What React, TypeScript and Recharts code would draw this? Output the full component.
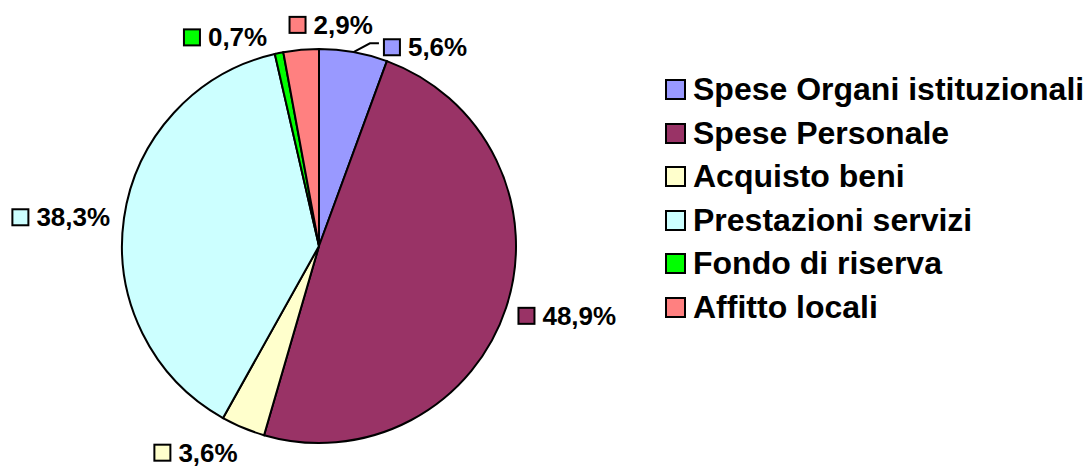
import React from 'react';
import { PieChart, Pie, Cell, Legend } from 'recharts';

const categories = [
  'Spese Organi istituzionali',
  'Spese Personale',
  'Acquisto beni',
  'Prestazioni servizi',
  'Fondo di riserva',
  'Affitto locali'
];
const shares = [5.6, 48.9, 3.6, 38.3, 0.7, 2.9];
const colors = ['#9999FF', '#993366', '#FFFFCC', '#CCFFFF', '#00FF00', '#FF8080'];

// small nudges so labels sit where the original best-fit placed them
const labelNudge = [[27, 9], [-2, 4], [0, 12], [0, 1], [-9, -2], [73, -11]];

const data = categories.map((name, i) => ({ name, value: shares[i] }));

const FONT = '"Liberation Sans", Arial, Helvetica, sans-serif';
const LABEL_SIZE = 26;
const RAD = Math.PI / 180;

let ctx: CanvasRenderingContext2D | null = null;
const textWidth = (s: string) => {
  if (!ctx) ctx = document.createElement('canvas').getContext('2d');
  if (!ctx) return s.length * 15;
  ctx.font = `bold ${LABEL_SIZE}px ${FONT}`;
  return ctx.measureText(s).width;
};

const fmt = (v: number) => v.toFixed(1).replace('.', ',') + '%';

const renderLabel = (props: any) => {
  const { cx, cy, midAngle, outerRadius, index, value } = props;
  const cos = Math.cos(-midAngle * RAD);
  const sin = Math.sin(-midAngle * RAD);
  const px = cx + (outerRadius + 14) * cos;
  const py = cy + (outerRadius + 14) * sin;
  const text = fmt(value);
  const w = 25 + textWidth(text);
  const [dx, dy] = labelNudge[index];
  const left = (cos >= 0 ? px : px - w) + dx;
  const mid = py + dy;
  const ex = cx + outerRadius * cos;
  const ey = cy + outerRadius * sin;
  return (
    <g key={`lbl-${index}`}>
      {index === 0 && (
        <polyline
          points={`${ex},${ey} ${left - 13},${mid - 4} ${left - 4},${mid - 4}`}
          fill="none"
          stroke="#000"
          strokeWidth={2}
        />
      )}
      <rect x={left + 1} y={mid - 8} width={16} height={16} fill={colors[index]} stroke="#000" strokeWidth={2} />
      <text
        x={left + 25}
        y={mid}
        dominantBaseline="central"
        fontFamily={FONT}
        fontWeight="bold"
        fontSize={LABEL_SIZE}
        fill="#000"
      >
        {text}
      </text>
    </g>
  );
};

const renderLegend = () => (
  <div style={{ fontFamily: FONT, fontWeight: 'bold', fontSize: 32, color: '#000' }}>
    {categories.map((name, i) => (
      <div key={name} style={{ display: 'flex', alignItems: 'center', height: 43.5, whiteSpace: 'nowrap' }}>
        <span
          style={{
            display: 'inline-block',
            width: 17,
            height: 17,
            border: '2px solid #000',
            background: colors[i],
            marginRight: 7
          }}
        />
        <span>{name}</span>
      </div>
    ))}
  </div>
);

export default function App() {
  return (
    <div style={{ position: 'absolute', left: 0, top: 0, background: '#fff' }}>
      <PieChart width={1086} height={468} margin={{ top: 0, right: 0, bottom: 0, left: 0 }}>
        <Pie
          data={data}
          dataKey="value"
          nameKey="name"
          cx={319}
          cy={246}
          outerRadius={197}
          startAngle={90}
          endAngle={-270}
          stroke="#000"
          strokeWidth={2}
          label={renderLabel}
          labelLine={false}
          isAnimationActive={false}
        >
          {data.map((d, i) => (
            <Cell key={d.name} fill={colors[i]} />
          ))}
        </Pie>
        <Legend
          content={renderLegend}
          wrapperStyle={{ left: 665, top: 68, width: 421, position: 'absolute' }}
        />
      </PieChart>
    </div>
  );
}
